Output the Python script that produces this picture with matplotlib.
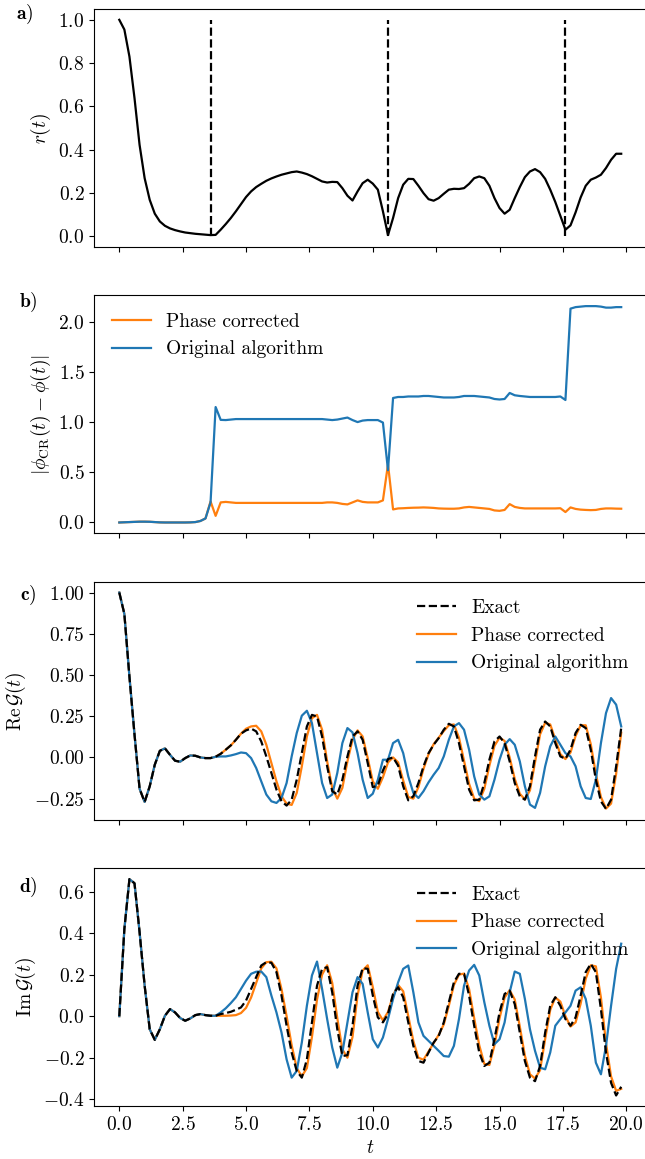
import numpy as np
import matplotlib
matplotlib.use("Agg")
import matplotlib.pyplot as plt

plt.rcParams.update({
    'font.family': 'serif',
    'font.serif': ['cmr10'],
    'mathtext.fontset': 'cm',
    'axes.formatter.use_mathtext': True,
    'axes.unicode_minus': True,
    'font.size': 14,
})

# time grid (dt = 0.2, 100 samples)
t = np.linspace(0.0, 19.8, 100)

# panel a: r(t)
r_t = [1.0, 0.955, 0.83, 0.638, 0.422, 0.268, 0.168, 0.104, 0.068, 0.048,
       0.036, 0.028, 0.022, 0.017, 0.014, 0.011, 0.009, 0.007, 0.005, 0.006,
       0.03, 0.056, 0.084, 0.115, 0.148, 0.181, 0.207, 0.227, 0.242, 0.256,
       0.267, 0.276, 0.284, 0.29, 0.296, 0.299, 0.294, 0.287, 0.277, 0.265,
       0.253, 0.248, 0.251, 0.25, 0.222, 0.187, 0.165, 0.207, 0.245, 0.261,
       0.243, 0.215, 0.115, 0.005, 0.084, 0.176, 0.238, 0.265, 0.264, 0.233,
       0.199, 0.171, 0.164, 0.176, 0.196, 0.215, 0.219, 0.218, 0.222, 0.242,
       0.268, 0.276, 0.268, 0.233, 0.176, 0.13, 0.104, 0.122, 0.176, 0.227,
       0.273, 0.299, 0.31, 0.296, 0.265, 0.215, 0.158, 0.094, 0.03, 0.05,
       0.11, 0.179, 0.233, 0.261, 0.271, 0.284, 0.315, 0.353, 0.381, 0.381]
vline_times = [3.6, 10.6, 17.6]

# panel b: phase differences
dphi_corrected = [0.0, 0.002, 0.004, 0.006, 0.008, 0.008, 0.007, 0.004, 0.001, 0.0,
                  0.0, 0.0, 0.0, 0.0, 0.001, 0.004, 0.015, 0.04, 0.21, 0.066,
                  0.2, 0.205, 0.2, 0.195, 0.195, 0.195, 0.195, 0.195, 0.195, 0.195,
                  0.195, 0.195, 0.195, 0.195, 0.195, 0.195, 0.195, 0.195, 0.195, 0.195,
                  0.195, 0.2, 0.2, 0.195, 0.185, 0.18, 0.2, 0.22, 0.205, 0.2,
                  0.2, 0.2, 0.22, 0.58, 0.13, 0.14, 0.142, 0.145, 0.147, 0.148,
                  0.15, 0.148, 0.145, 0.14, 0.138, 0.137, 0.137, 0.14, 0.15, 0.155,
                  0.15, 0.145, 0.14, 0.135, 0.12, 0.116, 0.125, 0.183, 0.155, 0.145,
                  0.14, 0.14, 0.14, 0.14, 0.14, 0.14, 0.14, 0.142, 0.104, 0.15,
                  0.135, 0.128, 0.125, 0.123, 0.125, 0.135, 0.14, 0.14, 0.138, 0.137]
dphi_original = [0.0, 0.002, 0.004, 0.006, 0.008, 0.008, 0.007, 0.004, 0.001, 0.0,
                 0.0, 0.0, 0.0, 0.0, 0.001, 0.004, 0.015, 0.04, 0.2, 1.15,
                 1.022, 1.02, 1.025, 1.03, 1.03, 1.03, 1.03, 1.03, 1.03, 1.03,
                 1.03, 1.03, 1.03, 1.03, 1.03, 1.03, 1.03, 1.03, 1.03, 1.03,
                 1.03, 1.025, 1.02, 1.025, 1.035, 1.045, 1.02, 1.0, 1.015, 1.02,
                 1.02, 1.02, 0.995, 0.52, 1.24, 1.25, 1.25, 1.255, 1.255, 1.255,
                 1.26, 1.26, 1.255, 1.25, 1.245, 1.245, 1.245, 1.25, 1.26, 1.26,
                 1.26, 1.255, 1.25, 1.245, 1.23, 1.225, 1.23, 1.29, 1.267, 1.26,
                 1.255, 1.25, 1.25, 1.25, 1.25, 1.25, 1.25, 1.255, 1.22, 2.13,
                 2.145, 2.15, 2.155, 2.155, 2.155, 2.15, 2.14, 2.14, 2.145, 2.145]

# panel c: Re G(t)
re_exact = [1.0, 0.87, 0.49, 0.14, -0.19, -0.27, -0.175, -0.044, 0.04, 0.055,
            0.016, -0.02, -0.026, -0.004, 0.012, 0.01, 0.0, -0.004, -0.004, 0.004,
            0.022, 0.047, 0.073, 0.107, 0.144, 0.164, 0.175, 0.158, 0.097, 0.006,
            -0.094, -0.195, -0.266, -0.292, -0.256, -0.135, 0.026, 0.188, 0.258, 0.248,
            0.127, -0.054, -0.205, -0.225, -0.135, 0.006, 0.127, 0.158, 0.107, -0.034,
            -0.18, -0.17, -0.08, -0.01, 0.0, -0.05, -0.175, -0.26, -0.235, -0.155,
            -0.054, 0.026, 0.077, 0.117, 0.168, 0.204, 0.188, 0.087, -0.054, -0.195,
            -0.26, -0.256, -0.155, -0.014, 0.097, 0.127, 0.087, -0.024, -0.155, -0.236,
            -0.256, -0.175, 0.006, 0.168, 0.218, 0.188, 0.087, 0.006, -0.008, 0.047,
            0.148, 0.198, 0.178, 0.047, -0.135, -0.266, -0.312, -0.256, -0.054, 0.178]
re_corrected = [1.0, 0.87, 0.49, 0.14, -0.19, -0.27, -0.175, -0.044, 0.04, 0.055,
                0.016, -0.02, -0.026, -0.004, 0.012, 0.01, 0.0, -0.004, -0.004, 0.004,
                0.022, 0.047, 0.073, 0.107, 0.144, 0.174, 0.188, 0.192, 0.158, 0.077,
                -0.034, -0.145, -0.236, -0.28, -0.288, -0.215, -0.054, 0.127, 0.238, 0.258,
                0.168, -0.024, -0.185, -0.25, -0.185, -0.024, 0.107, 0.164, 0.127, -0.004,
                -0.145, -0.19, -0.12, -0.03, 0.0, -0.03, -0.14, -0.24, -0.25, -0.18,
                -0.07, 0.02, 0.08, 0.12, 0.16, 0.195, 0.2, 0.12, -0.02, -0.16,
                -0.25, -0.265, -0.19, -0.05, 0.07, 0.12, 0.1, 0.0, -0.13, -0.22,
                -0.255, -0.2, -0.03, 0.14, 0.21, 0.2, 0.11, 0.02, -0.01, 0.03,
                0.13, 0.195, 0.195, 0.08, -0.1, -0.24, -0.31, -0.28, -0.1, 0.15]
re_original = [1.0, 0.87, 0.49, 0.14, -0.19, -0.27, -0.175, -0.044, 0.04, 0.055,
               0.016, -0.02, -0.026, -0.004, 0.012, 0.01, 0.0, -0.004, -0.004, 0.004,
               0.006, 0.006, 0.012, 0.02, 0.03, 0.026, -0.004, -0.064, -0.145, -0.225,
               -0.266, -0.276, -0.246, -0.155, 0.006, 0.148, 0.253, 0.283, 0.208, 0.026,
               -0.155, -0.246, -0.225, -0.094, 0.087, 0.178, 0.152, 0.026, -0.135, -0.246,
               -0.22, -0.135, -0.014, -0.014, 0.087, 0.107, 0.026, -0.115, -0.215, -0.246,
               -0.205, -0.151, -0.105, -0.064, 0.006, 0.107, 0.188, 0.208, 0.168, 0.047,
               -0.115, -0.225, -0.256, -0.236, -0.135, -0.014, 0.077, 0.111, 0.077, -0.024,
               -0.175, -0.286, -0.306, -0.215, -0.054, 0.067, 0.127, 0.077, 0.026, 0.006,
               -0.054, -0.175, -0.246, -0.252, -0.135, 0.087, 0.269, 0.36, 0.32, 0.188]

# panel d: Im G(t)
im_exact = [0.0, 0.42, 0.66, 0.64, 0.405, 0.147, -0.063, -0.114, -0.063, 0.002,
            0.034, 0.018, -0.009, -0.022, -0.011, 0.005, 0.01, 0.005, 0.002, 0.002,
            0.01, 0.015, 0.021, 0.031, 0.042, 0.075, 0.131, 0.188, 0.244, 0.26,
            0.257, 0.212, 0.099, -0.046, -0.175, -0.264, -0.296, -0.208, -0.03, 0.147,
            0.228, 0.236, 0.115, -0.063, -0.192, -0.188, -0.046, 0.147, 0.231, 0.228,
            0.1, -0.006, -0.03, 0.01, 0.107, 0.139, 0.091, -0.03, -0.143, -0.216,
            -0.224, -0.175, -0.127, -0.095, -0.03, 0.067, 0.163, 0.204, 0.204, 0.099,
            -0.046, -0.175, -0.24, -0.224, -0.111, 0.018, 0.107, 0.123, 0.058, -0.079,
            -0.216, -0.296, -0.313, -0.24, -0.079, 0.05, 0.091, 0.05, -0.014, -0.046,
            -0.006, 0.099, 0.212, 0.252, 0.212, 0.034, -0.175, -0.321, -0.382, -0.34]
im_corrected = [0.0, 0.42, 0.66, 0.64, 0.405, 0.147, -0.063, -0.114, -0.063, 0.002,
                0.034, 0.018, -0.009, -0.022, -0.011, 0.005, 0.01, 0.005, 0.002, 0.002,
                0.002, 0.002, 0.003, 0.005, 0.015, 0.04, 0.09, 0.16, 0.23, 0.26,
                0.262, 0.23, 0.13, 0.0, -0.14, -0.25, -0.29, -0.25, -0.1, 0.08,
                0.2, 0.245, 0.16, -0.01, -0.16, -0.2, -0.1, 0.1, 0.22, 0.245,
                0.14, 0.02, -0.02, 0.02, 0.1, 0.15, 0.12, 0.0, -0.12, -0.2,
                -0.21, -0.17, -0.13, -0.09, -0.04, 0.05, 0.15, 0.2, 0.205, 0.13,
                -0.01, -0.14, -0.23, -0.235, -0.14, -0.01, 0.09, 0.125, 0.08, -0.05,
                -0.19, -0.28, -0.3, -0.26, -0.11, 0.03, 0.09, 0.07, 0.0, -0.05,
                -0.03, 0.06, 0.18, 0.245, 0.24, 0.09, -0.13, -0.29, -0.36, -0.35]
im_original = [0.0, 0.42, 0.66, 0.64, 0.405, 0.147, -0.063, -0.114, -0.063, 0.002,
               0.034, 0.018, -0.009, -0.022, -0.011, 0.005, 0.01, 0.005, 0.002, 0.002,
               0.018, 0.038, 0.063, 0.091, 0.131, 0.171, 0.204, 0.214, 0.215, 0.188,
               0.099, 0.018, -0.079, -0.208, -0.296, -0.264, -0.127, 0.05, 0.196, 0.263,
               0.131, -0.014, -0.151, -0.248, -0.175, -0.03, 0.115, 0.188, 0.155, 0.018,
               -0.111, -0.151, -0.103, -0.014, 0.083, 0.163, 0.228, 0.244, 0.115, -0.03,
               -0.095, -0.119, -0.143, -0.167, -0.192, -0.195, -0.143, -0.014, 0.147, 0.22,
               0.247, 0.196, 0.067, -0.046, -0.135, -0.111, -0.03, 0.115, 0.215, 0.204,
               0.083, -0.063, -0.167, -0.248, -0.256, -0.175, -0.046, -0.014, 0.018, 0.05,
               0.123, 0.139, 0.083, -0.046, -0.224, -0.28, -0.143, 0.05, 0.228, 0.349]

panel_labels = ['a)', 'b)', 'c)', 'd)']

ORANGE = '#ff7f0e'
BLUE = '#1f77b4'

W, H = 645, 1159
fig = plt.figure(figsize=(W / 100, H / 100), dpi=100)

left = 94.2 / W
width = (646.3 - 94.2) / W
tops = [9.0, 295.3, 581.7, 868.3]
axh = 238.0
axes = []
for i, top in enumerate(tops):
    rect = [left, 1 - (top + axh) / H, width, axh / H]
    if i == 0:
        ax = fig.add_axes(rect)
    else:
        ax = fig.add_axes(rect, sharex=axes[0])
    axes.append(ax)

ax_a, ax_b, ax_c, ax_d = axes

# a)
ax_a.plot(t, r_t, color='black', lw=1.6)
ax_a.vlines(vline_times, 0, 1, colors='black', linestyles='dashed', lw=1.6)
ax_a.set_ylabel(r'$r(t)$')

# b)
ax_b.plot(t, dphi_corrected, color=ORANGE, lw=1.6, label='Phase corrected')
ax_b.plot(t, dphi_original, color=BLUE, lw=1.6, label='Original algorithm')
ax_b.set_ylabel(r'$|\phi_{\rm CR}(t)-\phi(t)|$')
ax_b.legend(loc='upper left', frameon=False)

# c)
ax_c.plot(t, re_exact, color='black', ls='--', lw=1.6, label='Exact', zorder=4)
ax_c.plot(t, re_corrected, color=ORANGE, lw=1.6, label='Phase corrected', zorder=2)
ax_c.plot(t, re_original, color=BLUE, lw=1.6, label='Original algorithm', zorder=3)
ax_c.set_ylabel(r'$\mathrm{Re}\,\mathcal{G}(t)$')
ax_c.legend(loc='upper right', frameon=False)

# d)
ax_d.plot(t, im_exact, color='black', ls='--', lw=1.6, label='Exact', zorder=4)
ax_d.plot(t, im_corrected, color=ORANGE, lw=1.6, label='Phase corrected', zorder=2)
ax_d.plot(t, im_original, color=BLUE, lw=1.6, label='Original algorithm', zorder=3)
ax_d.set_ylabel(r'$\mathrm{Im}\,\mathcal{G}(t)$')
ax_d.set_xlabel(r'$t$')
ax_d.legend(loc='upper right', frameon=False)

ax_d.set_xticks([0, 2.5, 5, 7.5, 10, 12.5, 15, 17.5, 20])
for ax in axes[:3]:
    ax.tick_params(labelbottom=False)

label_pos = [(25, 14), (28, 302), (28, 595), (28, 887)]
for lab, (px, py) in zip(panel_labels, label_pos):
    fig.text(px / W, 1 - py / H, r'$\mathbf{' + lab + '}$', ha='center', va='center',
             fontsize=14)

fig.savefig('out.png', dpi=100)
